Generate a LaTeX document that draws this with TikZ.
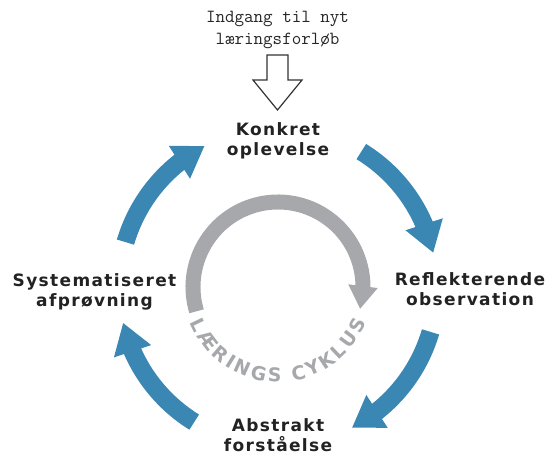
\documentclass[tikz,border=0pt]{standalone}
\usepackage{fontspec}
\newfontfamily\stagefont[LetterSpace=8]{DejaVu Sans}
\newfontfamily\ringfont{DejaVu Sans}
\usetikzlibrary{arrows.meta,bending,decorations.text,calc}
\definecolor{cycblue}{RGB}{58,135,180}
\definecolor{cycgray}{RGB}{166,168,171}
\definecolor{labeltext}{RGB}{34,34,34}
\tikzstyle{stage} = [text=labeltext, align=center, font=\stagefont\bfseries\fontsize{17}{20}\selectfont]
\tikzstyle{entry_text} = [text=black!85, align=center, font=\ttfamily\fontsize{18.5}{22}\selectfont]
\tikzstyle{entry_arrow} = [draw=black!80, line width=1.2pt, fill=white, line join=miter]
\tikzstyle{cyc_arrow} = [draw=cycblue, line width=18pt, -{Triangle[width=37pt, length=30pt, flex]}]
\tikzstyle{inner_arrow} = [draw=cycgray, line width=15pt, -{Triangle[width=28pt, length=23pt, flex]}]

\begin{document}
\begin{tikzpicture}[x=1pt, y=1pt]
		\useasboundingbox (0,0) rectangle (550,456);
		\coordinate (cyc) at (278,169);
		
		\node[stage] (konkret) at (278,315.5) {Konkret\\oplevelse};
		\node[stage] (reflekt) at (470,166.5) {Reflekterende\\observation};
		\node[stage] (abstrakt) at (278,20.5) {Abstrakt\\forståelse};
		\node[stage] (afproev) at (94.5,164.5) {Systematiseret\\afprøvning};
		
		\node[entry_text] (entry) at (277.5,426) {Indgang til nyt\\læringsforløb};
		\coordinate (entry_tip) at (277.5,346);
		\draw[entry_arrow] (entry_tip) -- ++(24.5,30) -- ++(-14,0) -- ++(0,25) -- ++(-21,0) -- ++(0,-25) -- ++(-14,0) -- cycle;
		
		
		\draw[cyc_arrow] ($(cyc)+(163.6:159)$) arc[start angle=163.6, end angle=117.5, radius=159];
		\draw[cyc_arrow] ($(cyc)+(58.4:159)$) arc[start angle=58.4, end angle=12.4, radius=159];
		\draw[cyc_arrow] ($(cyc)+(-16.4:159)$) arc[start angle=-16.4, end angle=-62.3, radius=159];
		\draw[cyc_arrow] ($(cyc)+(-121.8:159)$) arc[start angle=-121.8, end angle=-167, radius=159];
		
		
		\draw[inner_arrow] ($(cyc)+(196.6:85)$) arc[start angle=196.6, end angle=-15, radius=85];
		\path[decorate, decoration={text along path, text align={fit to path},
			text={|\ringfont\bfseries\fontsize{19}{19}\selectfont\color{cycgray}|LÆRINGS CYKLUS}}]
			($(cyc)+(-158:95)$) arc[start angle=-158, end angle=-22, radius=95];
\end{tikzpicture}
\end{document}
